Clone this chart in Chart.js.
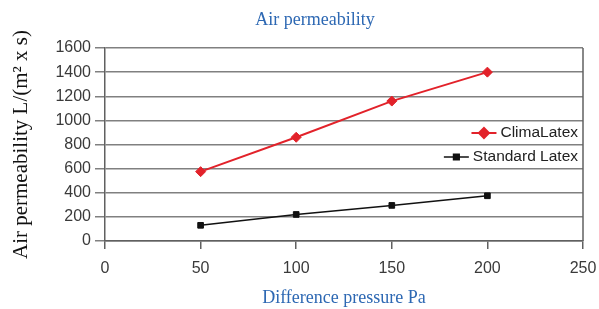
<!DOCTYPE html>
<html>
<head>
<meta charset="utf-8">
<script src="https://cdn.jsdelivr.net/npm/chart.js"></script>
<style>
  html, body { margin: 0; padding: 0; background: #fff; }
  #wrap { width: 599px; height: 309px; }
</style>
</head>
<body>
<div id="wrap"><canvas id="permChart" width="599" height="309"></canvas></div>
<script>
  var pressure = [50, 100, 150, 200];
  var climaLatex = [575, 860, 1160, 1400];
  var standardLatex = [130, 220, 295, 375];
  var seriesNames = ['ClimaLatex', 'Standard Latex'];
  var xTicks = [0, 50, 100, 150, 200, 250];
  var yTicks = [0, 200, 400, 600, 800, 1000, 1200, 1400, 1600];

  var chartTitle = 'Air permeability';
  var xTitle = 'Difference pressure Pa';
  var yTitle = 'Air permeability L/(m\u00b2 x s)';

  var redCol = '#e2222a';
  var blueCol = '#2d68b3';
  var gridCol = '#808080';

  function toPoints(xs, ys) {
    return xs.map(function (x, i) { return { x: x, y: ys[i] }; });
  }

  // top title + legend inside the plot
  var extrasPlugin = {
    id: 'extras',
    afterDraw: function (chart) {
      var ctx = chart.ctx;
      var area = chart.chartArea;
      ctx.save();
      ctx.font = '18px "Liberation Serif", serif';
      ctx.fillStyle = blueCol;
      ctx.textAlign = 'center';
      ctx.textBaseline = 'middle';
      ctx.fillText(chartTitle, 315, 20);

      // right border of frame
      ctx.strokeStyle = '#606060';
      ctx.lineWidth = 1.5;
      ctx.beginPath();
      ctx.moveTo(area.right, area.top);
      ctx.lineTo(area.right, area.bottom);
      ctx.stroke();

      var items = [
        { label: seriesNames[0], color: redCol, style: 'rectRot', r: 5, lw: 2, y: 133 },
        { label: seriesNames[1], color: '#111', style: 'rect', r: 4, lw: 1.5, y: 157 }
      ];
      ctx.font = '15.5px "Liberation Sans", Arial, sans-serif';
      ctx.textAlign = 'right';
      items.forEach(function (it) {
        var tx = area.right - 5;
        ctx.fillStyle = '#222';
        ctx.fillText(it.label, tx, it.y);
        var w = ctx.measureText(it.label).width;
        var lineEnd = tx - w - 4;
        var lineStart = lineEnd - 25;
        ctx.strokeStyle = it.color;
        ctx.lineWidth = it.lw;
        ctx.beginPath();
        ctx.moveTo(lineStart, it.y);
        ctx.lineTo(lineEnd, it.y);
        ctx.stroke();
        Chart.helpers.drawPoint(ctx, {
          pointStyle: it.style, radius: it.r, borderWidth: 1
        }, (lineStart + lineEnd) / 2, it.y);
        ctx.fillStyle = it.color;
        ctx.fill();
      });
      ctx.restore();
    }
  };

  var permConfig = {
    type: 'line',
    data: {
      datasets: [{
        label: seriesNames[0],
        data: toPoints(pressure, climaLatex),
        borderColor: redCol,
        backgroundColor: redCol,
        borderWidth: 2,
        pointStyle: 'rectRot',
        pointRadius: 5,
        pointBorderWidth: 1
      }, {
        label: seriesNames[1],
        data: toPoints(pressure, standardLatex),
        borderColor: '#111',
        backgroundColor: '#111',
        borderWidth: 1.5,
        pointStyle: 'rect',
        pointRadius: 4,
        pointBorderWidth: 1
      }]
    },
    options: {
      responsive: false,
      animation: false,
      layout: { padding: { top: 48, right: 16, left: 0, bottom: 0 } },
      plugins: {
        legend: { display: false },
        title: { display: false },
        tooltip: { enabled: false }
      },
      scales: {
        x: {
          type: 'linear',
          min: 0,
          max: 250,
          afterFit: function (s) {
            s.height = 68;
            s.paddingRight = 0;
            s.paddingLeft = 0;
          },
          afterBuildTicks: function (s) { s.ticks = xTicks.map(function (v) { return { value: v }; }); },
          grid: {
            drawOnChartArea: false,
            drawTicks: true,
            tickLength: 8,
            tickColor: '#606060',
            lineWidth: 1.5
          },
          border: { color: '#606060', width: 1.5 },
          ticks: {
            color: '#3a3a3a',
            padding: 10,
            font: { family: '"Liberation Sans", Arial, sans-serif', size: 16 }
          },
          title: {
            display: true,
            text: xTitle,
            color: blueCol,
            padding: { top: 0, bottom: 0 },
            font: { family: '"Liberation Serif", serif', size: 18 }
          }
        },
        y: {
          min: 0,
          max: 1600,
          afterFit: function (s) { s.width = 105; },
          afterBuildTicks: function (s) { s.ticks = yTicks.map(function (v) { return { value: v }; }); },
          grid: {
            color: gridCol,
            lineWidth: 1.5,
            tickLength: 10
          },
          border: { color: '#606060', width: 1.5 },
          ticks: {
            color: '#3a3a3a',
            padding: 4,
            callback: function (v) { return String(v); },
            font: { family: '"Liberation Sans", Arial, sans-serif', size: 16 }
          },
          title: {
            display: true,
            text: yTitle,
            color: '#111',
            padding: { top: 9, bottom: 0 },
            font: { family: '"Liberation Serif", serif', size: 21 }
          }
        }
      }
    },
    plugins: [extrasPlugin]
  };

  var permCtx = document.getElementById('permChart').getContext('2d');
  window.permChart = new Chart(permCtx, permConfig);
</script>
</body>
</html>
